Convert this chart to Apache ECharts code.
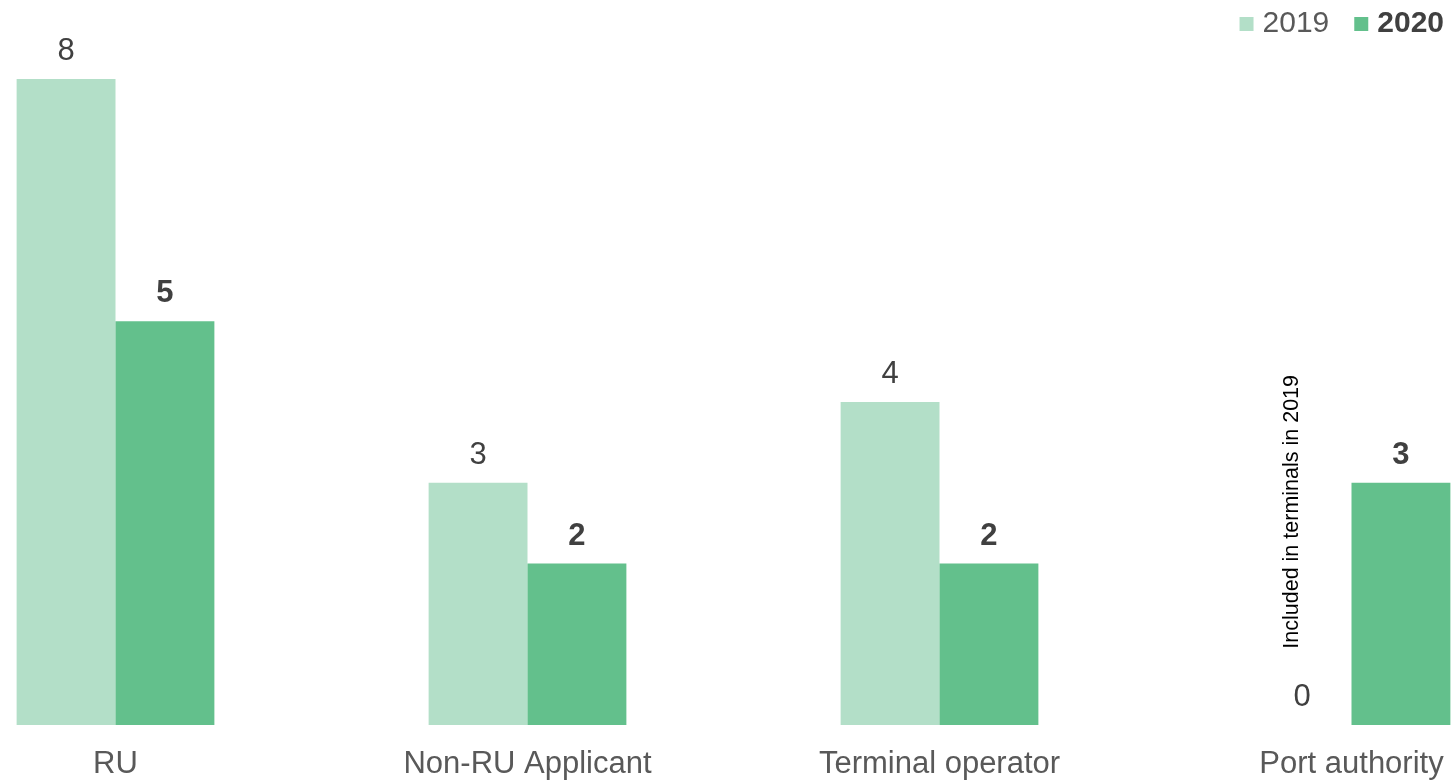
<!DOCTYPE html>
<html><head><meta charset="utf-8">
<script src="https://cdn.jsdelivr.net/npm/echarts@6/dist/echarts.min.js"></script>
<style>html,body{margin:0;padding:0;background:#fff}#c{width:1453px;height:781px}</style>
</head><body><div id="c"></div>
<script>
const categories = ['RU', 'Non-RU Applicant', 'Terminal operator', 'Port authority'];
const values2019 = [8, 3, 4, 0];
const values2020 = [5, 2, 2, 3];
const seriesNames = ['2019', '2020'];
const noteText = 'Included in terminals in 2019';

const FONT = '"Liberation Sans", Arial, sans-serif';
const chart = echarts.init(document.getElementById('c'));
chart.setOption({
  animation: false,
  textStyle: { fontFamily: FONT },
  legend: {
    right: 4, top: 4, itemWidth: 14, itemHeight: 14, itemGap: 25,
    icon: 'rect',
    textStyle: { fontSize: 30, color: '#595959', fontFamily: FONT, padding: [0, 0, 0, 4] },
    data: [
      { name: seriesNames[0] },
      { name: seriesNames[1], textStyle: { fontWeight: 'bold', fontSize: 30, color: '#404040', padding: [0, 0, 0, 4] } }
    ]
  },
  grid: { left: 115.5, right: 101.5, top: 79, bottom: 56, containLabel: false },
  xAxis: {
    type: 'category', data: categories, boundaryGap: false,
    axisLine: { show: false }, axisTick: { show: false },
    axisLabel: { fontSize: 31, color: '#595959', margin: 24, fontFamily: FONT }
  },
  yAxis: { type: 'value', min: 0, max: 8, show: false, splitLine: { show: false } },
  series: [
    {
      name: seriesNames[0], type: 'bar', data: values2019, barGap: '0%', barCategoryGap: '52%',
      itemStyle: { color: '#B3DFC8' },
      label: { show: true, position: 'top', distance: 12, fontSize: 31, color: '#404040', fontFamily: FONT }
    },
    {
      name: seriesNames[1], type: 'bar', data: values2020,
      itemStyle: { color: '#63C08C' },
      label: { show: true, position: 'top', distance: 12, fontSize: 31, fontWeight: 'bold', color: '#404040', fontFamily: FONT }
    }
  ]
});
const p = chart.convertToPixel({ xAxisIndex: 0, yAxisIndex: 0 }, [3, 2.64]);
chart.setOption({
  graphic: [{
    type: 'text', x: p[0] - 59, y: p[1], rotation: Math.PI / 2,
    style: { text: noteText, fontSize: 21.5, fill: '#000', fontFamily: FONT, align: 'center', verticalAlign: 'middle' }
  }]
});
</script></body></html>
